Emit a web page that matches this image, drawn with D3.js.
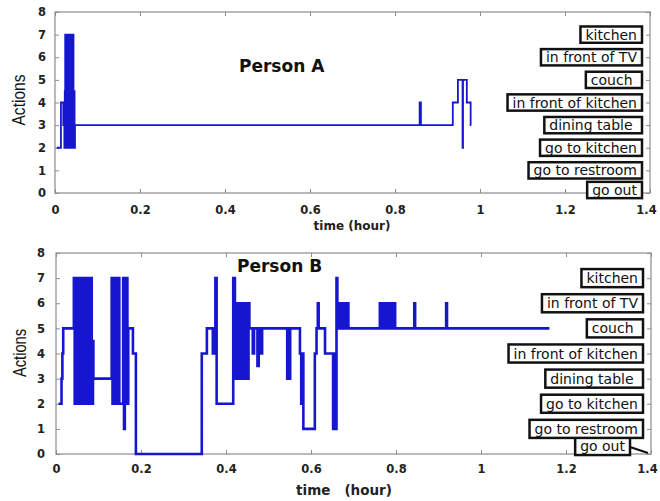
<!DOCTYPE html>
<html>
<head>
<meta charset="utf-8">
<script src="https://cdn.jsdelivr.net/npm/d3@7"></script>
<style>
  body { margin: 0; background: #fff; }
  text { font-family: "DejaVu Sans", sans-serif; }
</style>
</head>
<body>
<svg id="chart" width="660" height="501"></svg>
<script>
// axis ticks and labels
const xTicks = [0, 0.2, 0.4, 0.6, 0.8, 1, 1.2, 1.4];
const xTickLabels = ["0", "0.2", "0.4", "0.6", "0.8", "1", "1.2", "1.4"];
const yTicks = [0, 1, 2, 3, 4, 5, 6, 7, 8];
const yTickLabels = ["0", "1", "2", "3", "4", "5", "6", "7", "8"];

// action names, index = action level (trailing spaces as in the figure)
const actionNames = ["go out", "go to restroom", "go to kitchen", "dining table ",
  "in front of kitchen", "couch ", "in front of TV", "kitchen"];

// Person A: time (hour) where the action changes, and the new action
const timeA = [0.004, 0.014, 0.0195, 0.021, 0.022, 0.023, 0.024, 0.0255, 0.027, 0.0285,
  0.030, 0.0315, 0.033, 0.0345, 0.036, 0.0375, 0.039, 0.0405, 0.042, 0.0435,
  0.045, 0.046, 0.047, 0.858, 0.861, 0.936, 0.948, 0.959, 0.960, 0.969, 0.978, 0.979];
const actionA = [2, 4, 3, 4, 2, 4.5, 7, 2, 7, 2,
  7, 2, 7, 2, 7, 2, 7, 2, 7, 2,
  4.5, 2, 3, 4, 3, 4, 5, 2, 5, 4, 3, 3];

// Person B
const timeB = [0.006, 0.013, 0.015, 0.017,
  0.042, 0.044, 0.046, 0.048, 0.050, 0.052, 0.054, 0.056, 0.058, 0.060,
  0.062, 0.064, 0.066, 0.068, 0.070, 0.072, 0.074, 0.076, 0.078, 0.080,
  0.082, 0.084, 0.085, 0.086, 0.087, 0.088,
  0.131, 0.133, 0.135, 0.137, 0.139, 0.141, 0.143, 0.145, 0.147, 0.149,
  0.158, 0.160, 0.162, 0.164, 0.166, 0.168, 0.170, 0.181, 0.188,
  0.343, 0.355, 0.369, 0.375, 0.378,
  0.417, 0.421, 0.423, 0.425, 0.427, 0.429, 0.431, 0.433, 0.435, 0.437,
  0.439, 0.441, 0.443, 0.445, 0.447, 0.449, 0.451, 0.453, 0.455,
  0.463, 0.466, 0.474, 0.477, 0.483, 0.485,
  0.544, 0.5455, 0.547, 0.5485, 0.550, 0.551,
  0.574, 0.577, 0.579, 0.582, 0.609, 0.613, 0.616, 0.618, 0.633,
  0.652, 0.654, 0.655, 0.657, 0.658, 0.660, 0.662,
  0.667, 0.669, 0.671, 0.673, 0.675, 0.677, 0.679, 0.681, 0.683, 0.685, 0.687, 0.688,
  0.762, 0.764, 0.766, 0.768, 0.770, 0.772, 0.774, 0.776, 0.778, 0.780,
  0.782, 0.784, 0.786, 0.788, 0.790, 0.792, 0.794, 0.796, 0.797, 0.798,
  0.843, 0.845, 0.918, 0.920, 1.161];
const actionB = [2, 3, 4, 5,
  7, 2, 7, 2, 7, 2, 7, 2, 7, 2,
  7, 2, 7, 2, 7, 2, 7, 2, 7, 2,
  7, 2, 4.5, 2, 4.5, 3,
  7, 2, 7, 2, 7, 2, 7, 2, 7, 2,
  7, 1, 7, 2, 7, 2, 5, 4, 0,
  4, 5, 4, 7, 2,
  7, 6, 3, 6, 3, 6, 3, 6, 3, 6,
  3, 6, 3, 6, 3, 6, 3, 6, 5,
  4, 5, 3.5, 5, 4, 5,
  3, 5, 3, 5, 3, 5,
  4, 2, 4, 1, 4, 5, 6, 5, 4,
  1, 4, 1, 4, 1, 7, 5,
  6, 5, 6, 5, 6, 5, 6, 5, 6, 5, 6, 5,
  6, 5, 6, 5, 6, 5, 6, 5, 6, 5,
  6, 5, 6, 5, 6, 5, 6, 5, 6, 5,
  6, 5, 6, 5, 5];

const svg = d3.select("#chart");
const axisColor = "#8c8c8c";
const lineColor = "#1616d0";

function drawPanel(p) {
  const x = d3.scaleLinear().domain([0, 1.4]).range([p.left, p.right]);
  const y = d3.scaleLinear().domain([0, 8]).range([p.bottom, p.top]);
  const g = svg.append("g");

  // axes box
  g.append("rect")
    .attr("x", p.left).attr("y", p.top)
    .attr("width", p.right - p.left).attr("height", p.bottom - p.top)
    .attr("fill", "none").attr("stroke", axisColor).attr("stroke-width", 1.2);

  const xb = g.append("g").attr("transform", `translate(0,${p.bottom})`)
    .call(d3.axisBottom(x).tickValues(xTicks).tickFormat((d, i) => xTickLabels[i])
      .tickSizeInner(-4).tickSizeOuter(0).tickPadding(p.xPad));
  const xt = g.append("g").attr("transform", `translate(0,${p.top})`)
    .call(d3.axisTop(x).tickValues(xTicks).tickFormat("").tickSizeInner(-4).tickSizeOuter(0));
  const yl = g.append("g").attr("transform", `translate(${p.left},0)`)
    .call(d3.axisLeft(y).tickValues(yTicks).tickFormat((d, i) => yTickLabels[i])
      .tickSizeInner(-4).tickSizeOuter(0).tickPadding(p.yPad));
  const yr = g.append("g").attr("transform", `translate(${p.right},0)`)
    .call(d3.axisRight(y).tickValues(yTicks).tickFormat("").tickSizeInner(-4).tickSizeOuter(0));

  [xb, xt, yl, yr].forEach(a => {
    a.select(".domain").remove();
    a.selectAll("line").attr("stroke", axisColor);
    a.selectAll("text")
      .attr("fill", "#222")
      .style("font-family", "'DejaVu Sans', sans-serif")
      .style("font-weight", "bold")
      .style("font-size", "11.5px");
  });
  // keep the last x label inside the page
  xb.selectAll(".tick text").filter((d, i) => i === xTicks.length - 1).attr("dx", -4);

  // the step line
  const line = d3.line()
    .x(d => x(d[0]))
    .y(d => y(d[1]))
    .curve(d3.curveStepAfter);
  g.append("path")
    .datum(d3.zip(p.times, p.actions))
    .attr("d", line)
    .attr("fill", "none")
    .attr("stroke", lineColor)
    .attr("stroke-width", p.lineWidth);

  // action name boxes on the right
  const boxH = (y(0) - y(1)) * 0.72;
  actionNames.forEach((name, i) => {
    let right = p.right - 8;
    let yc = y(i);
    if (i === 0) { right += p.goOut.dx; yc += p.goOut.dy; }
    const lg = g.append("g");
    const t = lg.append("text")
      .attr("x", right - 5)
      .attr("y", yc)
      .attr("dy", "0.36em")
      .attr("text-anchor", "end")
      .style("white-space", "pre")
      .style("font-size", "14px")
      .attr("fill", "#111")
      .text(name);
    const w = t.node().getComputedTextLength();
    lg.insert("rect", "text")
      .attr("x", right - w - 10)
      .attr("y", yc - boxH / 2)
      .attr("width", w + 10)
      .attr("height", boxH)
      .attr("fill", "#fff")
      .attr("stroke", "#111")
      .attr("stroke-width", 2.5);
    if (i === 0 && p.goOut.arrow) {
      lg.append("line")
        .attr("x1", right).attr("y1", yc + 1)
        .attr("x2", p.right - 3).attr("y2", y(0) - 1)
        .attr("stroke", "#111").attr("stroke-width", 2.2);
    }
  });

  // titles and labels
  g.append("text")
    .attr("x", p.titleX).attr("y", p.titleY)
    .style("font-weight", "bold").style("font-size", "17px")
    .attr("fill", "#111")
    .text(p.title);

  g.append("text")
    .attr("x", p.xLabelX).attr("y", p.xLabelY)
    .attr("text-anchor", "middle")
    .style("white-space", "pre")
    .style("font-weight", "bold").style("font-size", p.xLabelSize + "px")
    .attr("fill", "#222")
    .text(p.xLabel);

  g.append("text")
    .attr("transform", `translate(${p.yLabelX},${p.yLabelY}) rotate(-90)`)
    .attr("text-anchor", "middle")
    .style("font-family", "'Liberation Sans Narrow', 'Liberation Sans', sans-serif")
    .style("font-size", "18px")
    .attr("textLength", p.yLabelLen)
    .attr("lengthAdjust", "spacingAndGlyphs")
    .attr("fill", "#111")
    .text("Actions");
}

drawPanel({
  left: 55, right: 650, top: 12, bottom: 193,
  times: timeA, actions: actionA, lineWidth: 1.8,
  xPad: 13, yPad: 9,
  title: "Person A", titleX: 239, titleY: 72,
  xLabel: "time (hour)", xLabelX: 352, xLabelY: 230, xLabelSize: 12,
  yLabelX: 25, yLabelY: 100, yLabelLen: 51,
  goOut: { dx: 0, dy: -3, arrow: false }
});

drawPanel({
  left: 56, right: 651, top: 253, bottom: 454,
  times: timeB, actions: actionB, lineWidth: 2.6,
  xPad: 11, yPad: 11,
  title: "Person B", titleX: 237, titleY: 272,
  xLabel: "time   (hour)", xLabelX: 344, xLabelY: 495, xLabelSize: 13.5,
  yLabelX: 26, yLabelY: 353, yLabelLen: 48,
  goOut: { dx: -13, dy: -8, arrow: true }
});
</script>
</body>
</html>
